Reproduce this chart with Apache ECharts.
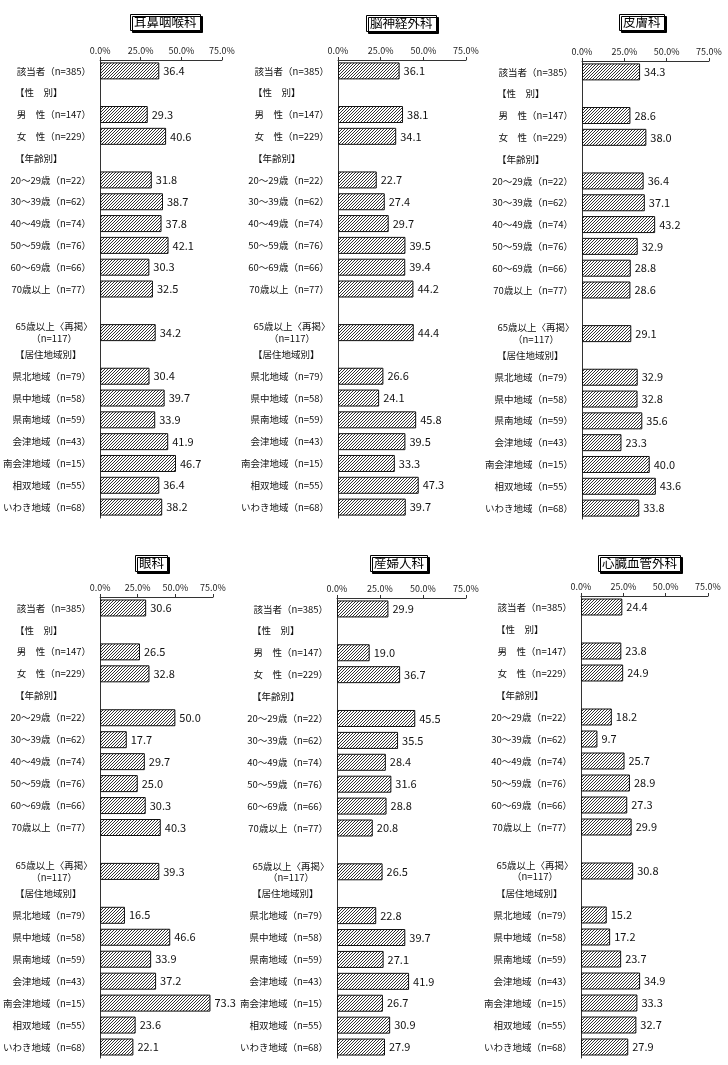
<!DOCTYPE html>
<html>
<head>
<meta charset="utf-8">
<script src="https://cdn.jsdelivr.net/npm/echarts@6/dist/echarts.min.js"></script>
<style>
  html, body { margin: 0; padding: 0; background: #fff; }
  #chart { width: 728px; height: 1065px; }
</style>
</head>
<body>
<div id="chart"></div>
<script>
// row labels (headers start with 【, blank row = spacer)
const categories = [
  '該当者（n=385）', '【性　別】', '男　性（n=147）', '女　性（n=229）',
  '【年齢別】', '20～29歳（n=22）', '30～39歳（n=62）', '40～49歳（n=74）',
  '50～59歳（n=76）', '60～69歳（n=66）', '70歳以上（n=77）', '',
  '65歳以上〈再掲〉\n（n=117）', '【居住地域別】', '県北地域（n=79）', '県中地域（n=58）',
  '県南地域（n=59）', '会津地域（n=43）', '南会津地域（n=15）', '相双地域（n=55）',
  'いわき地域（n=68）'
];

const panelTitles = ['耳鼻咽喉科', '脳神経外科', '皮膚科', '眼科', '産婦人科', '心臓血管外科'];

const entValues = [36.4, null, 29.3, 40.6, null, 31.8, 38.7, 37.8, 42.1, 30.3, 32.5, null, 34.2, null, 30.4, 39.7, 33.9, 41.9, 46.7, 36.4, 38.2];
const neuroValues = [36.1, null, 38.1, 34.1, null, 22.7, 27.4, 29.7, 39.5, 39.4, 44.2, null, 44.4, null, 26.6, 24.1, 45.8, 39.5, 33.3, 47.3, 39.7];
const dermaValues = [34.3, null, 28.6, 38.0, null, 36.4, 37.1, 43.2, 32.9, 28.8, 28.6, null, 29.1, null, 32.9, 32.8, 35.6, 23.3, 40.0, 43.6, 33.8];
const eyeValues = [30.6, null, 26.5, 32.8, null, 50.0, 17.7, 29.7, 25.0, 30.3, 40.3, null, 39.3, null, 16.5, 46.6, 33.9, 37.2, 73.3, 23.6, 22.1];
const obgynValues = [29.9, null, 19.0, 36.7, null, 45.5, 35.5, 28.4, 31.6, 28.8, 20.8, null, 26.5, null, 22.8, 39.7, 27.1, 41.9, 26.7, 30.9, 27.9];
const cardioValues = [24.4, null, 23.8, 24.9, null, 18.2, 9.7, 25.7, 28.9, 27.3, 29.9, null, 30.8, null, 15.2, 17.2, 23.7, 34.9, 33.3, 32.7, 27.9];

const panelValues = [entValues, neuroValues, dermaValues, eyeValues, obgynValues, cardioValues];

// plot boxes and title boxes, in px
const layouts = [
  { left: 93,  top: 60,  width: 129, height: 458, tx: 130, ty: 14 },
  { left: 338, top: 60,  width: 128, height: 458, tx: 366, ty: 15 },
  { left: 582, top: 61,  width: 127, height: 458, tx: 619, ty: 14 },
  { left: 93,  top: 597, width: 120, height: 461, tx: 135, ty: 555 },
  { left: 337, top: 598, width: 129, height: 460, tx: 370, ty: 555 },
  { left: 581, top: 596, width: 127, height: 462, tx: 598, ty: 555 }
];

const FONT = '"Noto Sans CJK JP", "Noto Sans", sans-serif';

// diagonal hatch tile for the bars
function hatchCanvas() {
  const s = 3;
  const c = document.createElement('canvas');
  c.width = s; c.height = s;
  const g = c.getContext('2d');
  g.fillStyle = '#fff';
  g.fillRect(0, 0, s, s);
  g.fillStyle = '#333';
  for (let i = 0; i < s; i++) g.fillRect(i, s - 1 - i, 1, 1);
  return c;
}
const hatch = { image: hatchCanvas(), repeat: 'repeat' };

function rowLabel(s) {
  if (s.startsWith('【')) return '{h|' + s + '}';
  if (s.indexOf('\n') >= 0) return s.split('\n').map(l => '{c|' + l + '}').join('\n');
  return '{n|' + s + '}';
}

const chart = echarts.init(document.getElementById('chart'));

const option = {
  animation: false,
  textStyle: { fontFamily: FONT },
  title: [], grid: [], xAxis: [], yAxis: [], series: []
};

layouts.forEach((L, i) => {
  option.title.push({
    text: panelTitles[i],
    left: L.tx, top: L.ty,
    padding: [2, 4],
    backgroundColor: '#fff',
    borderColor: '#000', borderWidth: 1,
    shadowColor: '#000', shadowBlur: 0, shadowOffsetX: 2, shadowOffsetY: 2,
    textStyle: {
      fontSize: 12.5, fontWeight: 'normal', color: '#000', fontFamily: FONT,
      textShadowColor: 'transparent', textShadowBlur: 0
    }
  });
  option.grid.push({ left: L.left, top: L.top, width: L.width, height: L.height, containLabel: false });
  option.xAxis.push({
    gridIndex: i, type: 'value', position: 'top',
    min: 0, max: 75, interval: 25,
    axisLine: { show: true, lineStyle: { color: '#333', width: 1 } },
    axisTick: { show: true, length: 3, lineStyle: { color: '#333' } },
    splitLine: { show: false },
    axisLabel: {
      fontSize: 9, color: '#222', margin: 5, fontFamily: FONT,
      showMinLabel: true, showMaxLabel: true,
      formatter: v => v.toFixed(1) + '%'
    }
  });
  option.yAxis.push({
    gridIndex: i, type: 'category', inverse: true,
    data: categories,
    axisLine: { show: true, lineStyle: { color: '#333', width: 1 } },
    axisTick: { show: false },
    axisLabel: {
      interval: 0, margin: 9, color: '#111', fontSize: 9.5, fontFamily: FONT,
      formatter: rowLabel,
      rich: {
        n: { fontSize: 9.5, color: '#111', fontFamily: FONT },
        h: { fontSize: 9.5, color: '#111', fontFamily: FONT, width: 76, align: 'left' },
        c: { fontSize: 9.5, color: '#111', fontFamily: FONT, width: 74, align: 'center', lineHeight: 11.5 }
      }
    }
  });
  option.series.push({
    type: 'bar', xAxisIndex: i, yAxisIndex: i,
    data: panelValues[i],
    barWidth: 17,
    itemStyle: { color: hatch, borderColor: '#111', borderWidth: 1 },
    emphasis: { disabled: true },
    label: {
      show: true, position: 'right', distance: 4,
      fontSize: 11, color: '#111', fontFamily: FONT,
      formatter: p => (p.value == null ? '' : Number(p.value).toFixed(1))
    }
  });
});

chart.setOption(option);
</script>
</body>
</html>
